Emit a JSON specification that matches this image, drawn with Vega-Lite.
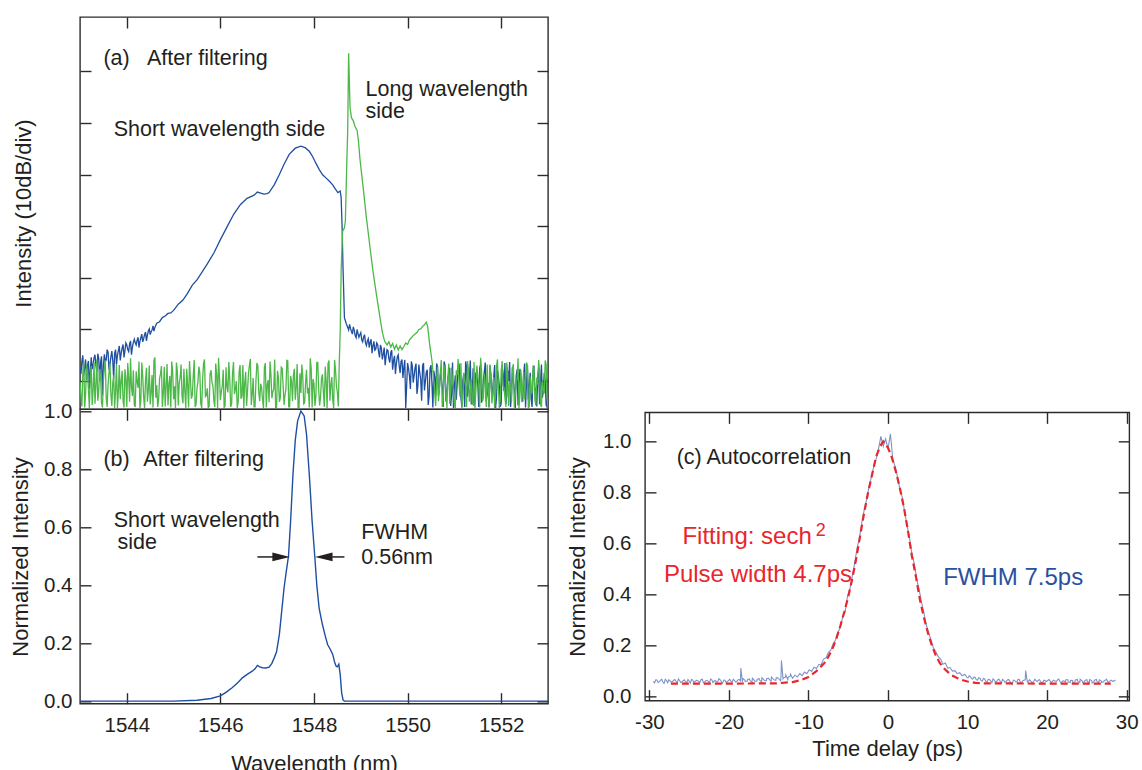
{
"$schema": "https://vega.github.io/schema/vega-lite/v6.json",
"autosize": {"type": "pad"},
"padding": {"left": 8, "top": 15, "right": 0, "bottom": 0},
"background": "white",
"bounds": "flush",
"spacing": 0,
"config": {
  "font": "Liberation Sans",
  "view": {"stroke": "#2b2b2b", "strokeWidth": 1.4},
  "axis": {"grid": false, "domain": false, "ticks": true, "tickSize": -11, "tickColor": "#2b2b2b", "tickWidth": 1.4,
           "labelFont": "Liberation Sans", "labelFontSize": 20.5, "labelColor": "#231f20",
           "titleFont": "Liberation Sans", "titleFontSize": 22, "titleFontWeight": "normal", "titleColor": "#231f20"},
  "text": {"font": "Liberation Sans"}
},
"datasets": {
"blueA": [
{"w":1543.00,"v":-67.5},{"w":1543.04,"v":-66.2},{"w":1543.08,"v":-68.9},{"w":1543.12,"v":-65.8},{"w":1543.16,"v":-67.0},{"w":1543.20,"v":-71.5},{"w":1543.24,"v":-65.4},{"w":1543.28,"v":-66.8},{"w":1543.32,"v":-64.9},{"w":1543.36,"v":-68.2},
{"w":1543.40,"v":-65.6},{"w":1543.44,"v":-66.3},{"w":1543.48,"v":-72.8},{"w":1543.52,"v":-64.8},{"w":1543.56,"v":-65.9},{"w":1543.60,"v":-64.4},{"w":1543.64,"v":-66.7},{"w":1543.68,"v":-64.2},{"w":1543.72,"v":-69.5},{"w":1543.76,"v":-63.9},
{"w":1543.80,"v":-65.0},{"w":1543.84,"v":-63.2},{"w":1543.88,"v":-64.6},{"w":1543.92,"v":-62.9},{"w":1543.96,"v":-64.1},{"w":1544.00,"v":-63.0},{"w":1544.04,"v":-64.3},{"w":1544.08,"v":-62.2},{"w":1544.12,"v":-63.4},{"w":1544.16,"v":-61.9},
{"w":1544.20,"v":-63.0},{"w":1544.24,"v":-61.5},{"w":1544.28,"v":-62.3},{"w":1544.32,"v":-60.9},{"w":1544.36,"v":-61.8},{"w":1544.40,"v":-60.5},{"w":1544.44,"v":-61.1},{"w":1544.48,"v":-59.9},{"w":1544.52,"v":-60.4},{"w":1544.56,"v":-59.3},
{"w":1544.60,"v":-59.6},{"w":1544.64,"v":-58.8},{"w":1544.70,"v":-58.5},{"w":1544.76,"v":-57.7},{"w":1544.82,"v":-57.4},{"w":1544.88,"v":-56.9},{"w":1544.94,"v":-56.8},{"w":1545.00,"v":-56.3},
{"w":1545.10,"v":-55.1},{"w":1545.20,"v":-54.3},{"w":1545.29,"v":-53.1},{"w":1545.40,"v":-51.4},{"w":1545.50,"v":-50.4},{"w":1545.58,"v":-49.3},{"w":1545.72,"v":-47.3},{"w":1545.86,"v":-45.2},{"w":1546.00,"v":-42.6},{"w":1546.15,"v":-40.0},
{"w":1546.29,"v":-37.6},{"w":1546.43,"v":-35.8},{"w":1546.57,"v":-34.6},{"w":1546.72,"v":-34.0},{"w":1546.79,"v":-33.4},{"w":1546.86,"v":-33.6},{"w":1546.93,"v":-33.8},{"w":1547.00,"v":-33.7},{"w":1547.04,"v":-33.5},{"w":1547.15,"v":-32.0},
{"w":1547.26,"v":-30.0},{"w":1547.36,"v":-28.0},{"w":1547.47,"v":-26.1},{"w":1547.60,"v":-24.9},{"w":1547.72,"v":-24.5},{"w":1547.81,"v":-24.8},{"w":1547.90,"v":-25.5},{"w":1547.97,"v":-26.5},{"w":1548.04,"v":-27.8},{"w":1548.11,"v":-29.0},
{"w":1548.18,"v":-30.0},{"w":1548.26,"v":-30.7},{"w":1548.33,"v":-31.3},{"w":1548.40,"v":-32.0},{"w":1548.44,"v":-32.6},{"w":1548.51,"v":-33.5},{"w":1548.56,"v":-33.2},{"w":1548.58,"v":-34.5},{"w":1548.60,"v":-40.0},{"w":1548.62,"v":-48.0},
{"w":1548.65,"v":-57.7},{"w":1548.69,"v":-58.9},
{"w":1548.72,"v":-59.6},{"w":1548.76,"v":-59.0},{"w":1548.80,"v":-60.4},{"w":1548.84,"v":-59.5},{"w":1548.88,"v":-61.2},{"w":1548.92,"v":-60.0},{"w":1548.96,"v":-61.5},{"w":1549.00,"v":-60.6},{"w":1549.04,"v":-62.4},{"w":1549.08,"v":-61.0},
{"w":1549.12,"v":-63.1},{"w":1549.16,"v":-61.8},{"w":1549.20,"v":-62.5},{"w":1549.24,"v":-64.6},{"w":1549.28,"v":-62.3},{"w":1549.32,"v":-63.8},{"w":1549.36,"v":-62.9},{"w":1549.40,"v":-65.4},{"w":1549.44,"v":-63.6},{"w":1549.48,"v":-64.8},
{"w":1549.52,"v":-66.9},{"w":1549.56,"v":-63.9},{"w":1549.60,"v":-65.7},{"w":1549.64,"v":-64.5},{"w":1549.68,"v":-67.8},{"w":1549.72,"v":-65.1},{"w":1549.76,"v":-66.6},{"w":1549.80,"v":-64.9},{"w":1549.84,"v":-68.4},{"w":1549.88,"v":-65.8},
{"w":1549.92,"v":-67.3},{"w":1549.96,"v":-75.2},{"w":1550.00,"v":-66.5},{"w":1550.04,"v":-69.0},{"w":1550.08,"v":-66.2},{"w":1550.12,"v":-70.3},{"w":1550.16,"v":-67.4},{"w":1550.20,"v":-72.5},{"w":1550.24,"v":-66.8},{"w":1550.28,"v":-69.6},
{"w":1550.32,"v":-67.0},{"w":1550.36,"v":-71.8},{"w":1550.40,"v":-68.2},{"w":1550.44,"v":-74.6},{"w":1550.48,"v":-67.5},{"w":1550.52,"v":-70.4},{"w":1550.56,"v":-68.0},{"w":1550.60,"v":-73.0},{"w":1550.64,"v":-67.2},{"w":1550.68,"v":-71.2},
{"w":1550.72,"v":-69.5},{"w":1550.76,"v":-75.0},{"w":1550.80,"v":-67.0},{"w":1550.84,"v":-72.4},{"w":1550.88,"v":-68.3},{"w":1550.92,"v":-74.8},{"w":1550.96,"v":-66.4},{"w":1551.00,"v":-70.9},{"w":1551.04,"v":-73.6},{"w":1551.08,"v":-67.8},
{"w":1551.12,"v":-71.5},{"w":1551.16,"v":-75.1},{"w":1551.20,"v":-68.6},{"w":1551.24,"v":-66.2},{"w":1551.28,"v":-73.0},{"w":1551.32,"v":-69.4},{"w":1551.36,"v":-74.5},{"w":1551.40,"v":-67.5},{"w":1551.44,"v":-71.9},{"w":1551.48,"v":-69.0},
{"w":1551.52,"v":-75.0},{"w":1551.56,"v":-66.8},{"w":1551.60,"v":-72.2},{"w":1551.64,"v":-68.1},{"w":1551.68,"v":-74.0},{"w":1551.72,"v":-70.3},{"w":1551.76,"v":-67.0},{"w":1551.80,"v":-73.4},{"w":1551.84,"v":-69.2},{"w":1551.88,"v":-75.2},
{"w":1551.92,"v":-67.9},{"w":1551.96,"v":-71.0},{"w":1552.00,"v":-74.3},{"w":1552.04,"v":-68.5},{"w":1552.08,"v":-66.5},{"w":1552.12,"v":-72.8},{"w":1552.16,"v":-70.0},{"w":1552.20,"v":-75.0},{"w":1552.24,"v":-67.3},{"w":1552.28,"v":-71.6},
{"w":1552.32,"v":-69.0},{"w":1552.36,"v":-74.7},{"w":1552.40,"v":-67.6},{"w":1552.44,"v":-72.1},{"w":1552.48,"v":-68.8},{"w":1552.52,"v":-75.1},{"w":1552.56,"v":-66.9},{"w":1552.60,"v":-70.7},{"w":1552.64,"v":-73.5},{"w":1552.68,"v":-68.0},
{"w":1552.72,"v":-71.4},{"w":1552.76,"v":-74.9},{"w":1552.80,"v":-67.4},{"w":1552.84,"v":-70.2},{"w":1552.88,"v":-73.2},{"w":1552.92,"v":-68.4},{"w":1552.96,"v":-74.6},{"w":1553.00,"v":-69.5},
{"w":1543.02,"v":-68.6},{"w":1543.06,"v":-65.0},{"w":1543.10,"v":-67.4},{"w":1543.14,"v":-69.8},{"w":1543.18,"v":-66.1},{"w":1543.22,"v":-68.0},{"w":1543.26,"v":-67.7},{"w":1543.30,"v":-65.5},{"w":1543.34,"v":-66.9},{"w":1543.38,"v":-64.7},
{"w":1543.42,"v":-70.0},{"w":1543.46,"v":-65.2},{"w":1543.50,"v":-67.1},{"w":1543.54,"v":-66.2},{"w":1543.58,"v":-63.9},{"w":1543.62,"v":-67.8},{"w":1543.66,"v":-65.3},{"w":1543.70,"v":-66.0},{"w":1543.74,"v":-64.6},{"w":1543.78,"v":-66.8},
{"w":1543.82,"v":-64.1},{"w":1543.86,"v":-66.0},{"w":1543.90,"v":-63.6},{"w":1543.94,"v":-65.4},{"w":1543.98,"v":-62.6},{"w":1544.02,"v":-63.9},{"w":1544.06,"v":-62.8},{"w":1544.10,"v":-64.9},{"w":1544.14,"v":-62.5},{"w":1544.18,"v":-62.6},
{"w":1544.22,"v":-62.1},{"w":1544.26,"v":-63.5},{"w":1544.30,"v":-61.6},{"w":1544.34,"v":-62.4},{"w":1544.38,"v":-61.0},{"w":1544.42,"v":-62.2},{"w":1544.46,"v":-60.3},{"w":1544.50,"v":-61.0},{"w":1544.54,"v":-60.1},{"w":1544.58,"v":-60.3},{"w":1544.62,"v":-59.2},
{"w":1548.74,"v":-60.1},{"w":1548.78,"v":-59.8},{"w":1548.82,"v":-60.9},{"w":1548.86,"v":-60.2},{"w":1548.90,"v":-61.6},{"w":1548.94,"v":-60.8},{"w":1548.98,"v":-61.0},{"w":1549.02,"v":-62.0},{"w":1549.06,"v":-61.5},{"w":1549.10,"v":-62.6},
{"w":1549.14,"v":-62.2},{"w":1549.18,"v":-63.5},{"w":1549.22,"v":-61.9},{"w":1549.26,"v":-63.2},{"w":1549.30,"v":-64.0},{"w":1549.34,"v":-62.6},{"w":1549.38,"v":-64.3},{"w":1549.42,"v":-63.0},{"w":1549.46,"v":-65.8},{"w":1549.50,"v":-63.5},
{"w":1549.54,"v":-65.2},{"w":1549.58,"v":-64.1},{"w":1549.62,"v":-66.4},{"w":1549.66,"v":-64.0},{"w":1549.70,"v":-66.0},{"w":1549.74,"v":-68.6},{"w":1549.78,"v":-65.3},{"w":1549.82,"v":-67.0},{"w":1549.86,"v":-66.2},{"w":1549.90,"v":-69.4},
{"w":1549.94,"v":-65.9},{"w":1549.98,"v":-70.8},{"w":1550.02,"v":-67.6},{"w":1550.06,"v":-71.5},{"w":1550.10,"v":-67.0},{"w":1550.14,"v":-68.9},{"w":1550.18,"v":-66.6},{"w":1550.22,"v":-70.9},{"w":1550.26,"v":-68.4},{"w":1550.30,"v":-73.8},
{"w":1550.34,"v":-66.5},{"w":1550.38,"v":-70.0},{"w":1550.42,"v":-67.8},{"w":1550.46,"v":-72.9},{"w":1550.50,"v":-66.9},{"w":1550.54,"v":-75.1},{"w":1550.58,"v":-69.2},{"w":1550.62,"v":-66.6},{"w":1550.66,"v":-72.8},{"w":1550.70,"v":-68.6},
{"w":1550.74,"v":-71.0},{"w":1550.78,"v":-66.2},{"w":1550.82,"v":-74.0},{"w":1550.86,"v":-69.6},{"w":1550.90,"v":-67.4},{"w":1550.94,"v":-72.6},{"w":1550.98,"v":-75.2},{"w":1551.02,"v":-68.9},{"w":1551.06,"v":-70.4},{"w":1551.10,"v":-66.6},
{"w":1551.14,"v":-73.2},{"w":1551.18,"v":-69.9},{"w":1551.22,"v":-75.0},{"w":1551.26,"v":-67.2},{"w":1551.30,"v":-71.3},{"w":1551.34,"v":-66.0},{"w":1551.38,"v":-72.9},{"w":1551.42,"v":-74.8},{"w":1551.46,"v":-68.3},{"w":1551.50,"v":-70.6},
{"w":1551.54,"v":-67.5},{"w":1551.58,"v":-74.2},{"w":1551.62,"v":-69.7},{"w":1551.66,"v":-66.4},{"w":1551.70,"v":-72.5},{"w":1551.74,"v":-75.1},{"w":1551.78,"v":-68.7},{"w":1551.82,"v":-71.4},{"w":1551.86,"v":-66.9},{"w":1551.90,"v":-73.1},
{"w":1551.94,"v":-69.0},{"w":1551.98,"v":-75.0},{"w":1552.02,"v":-67.1},{"w":1552.06,"v":-71.9},{"w":1552.10,"v":-74.4},{"w":1552.14,"v":-68.0},{"w":1552.18,"v":-66.3},{"w":1552.22,"v":-72.7},{"w":1552.26,"v":-70.1},{"w":1552.30,"v":-75.2},
{"w":1552.34,"v":-67.7},{"w":1552.38,"v":-71.1},{"w":1552.42,"v":-68.9},{"w":1552.46,"v":-74.0},{"w":1552.50,"v":-66.6},{"w":1552.54,"v":-70.3},{"w":1552.58,"v":-73.6},{"w":1552.62,"v":-68.4},{"w":1552.66,"v":-75.0},{"w":1552.70,"v":-67.0},
{"w":1552.74,"v":-71.7},{"w":1552.78,"v":-69.3},{"w":1552.82,"v":-74.5},{"w":1552.86,"v":-66.8},{"w":1552.90,"v":-72.0},{"w":1552.94,"v":-69.9},{"w":1552.98,"v":-75.1}
],
"greenA": [
{"w":1543.00,"v":-70.2},{"w":1543.04,"v":-74.9},{"w":1543.08,"v":-66.0},{"w":1543.12,"v":-72.5},{"w":1543.16,"v":-68.3},{"w":1543.20,"v":-75.2},{"w":1543.24,"v":-67.1},{"w":1543.28,"v":-71.8},{"w":1543.32,"v":-74.4},{"w":1543.36,"v":-65.8},
{"w":1543.40,"v":-72.0},{"w":1543.44,"v":-69.1},{"w":1543.48,"v":-75.1},{"w":1543.52,"v":-67.4},{"w":1543.56,"v":-73.3},{"w":1543.60,"v":-70.6},{"w":1543.64,"v":-66.5},{"w":1543.68,"v":-74.8},{"w":1543.72,"v":-68.9},{"w":1543.76,"v":-71.7},
{"w":1543.80,"v":-75.2},{"w":1543.84,"v":-66.9},{"w":1543.88,"v":-70.0},{"w":1543.92,"v":-73.8},{"w":1543.96,"v":-67.7},{"w":1544.00,"v":-75.0},{"w":1544.04,"v":-69.4},{"w":1544.08,"v":-65.6},{"w":1544.12,"v":-72.9},{"w":1544.16,"v":-74.6},
{"w":1544.20,"v":-68.1},{"w":1544.24,"v":-71.3},{"w":1544.28,"v":-75.2},{"w":1544.32,"v":-66.4},{"w":1544.36,"v":-73.1},{"w":1544.40,"v":-69.8},{"w":1544.44,"v":-74.0},{"w":1544.48,"v":-67.0},{"w":1544.52,"v":-72.4},{"w":1544.56,"v":-75.1},
{"w":1544.60,"v":-65.4},{"w":1544.64,"v":-70.8},{"w":1544.68,"v":-73.6},{"w":1544.72,"v":-68.6},{"w":1544.76,"v":-75.0},{"w":1544.80,"v":-67.2},{"w":1544.84,"v":-71.1},{"w":1544.88,"v":-74.7},{"w":1544.92,"v":-69.0},{"w":1544.96,"v":-66.2},
{"w":1545.00,"v":-73.5},{"w":1545.04,"v":-75.2},{"w":1545.08,"v":-68.0},{"w":1545.12,"v":-70.4},{"w":1545.16,"v":-66.8},{"w":1545.20,"v":-74.3},{"w":1545.24,"v":-71.9},{"w":1545.28,"v":-67.6},{"w":1545.32,"v":-75.1},{"w":1545.36,"v":-69.7},
{"w":1545.40,"v":-72.7},{"w":1545.44,"v":-65.9},{"w":1545.48,"v":-74.5},{"w":1545.52,"v":-70.1},{"w":1545.56,"v":-68.4},{"w":1545.60,"v":-75.2},{"w":1545.64,"v":-66.6},{"w":1545.68,"v":-73.0},{"w":1545.72,"v":-71.4},{"w":1545.76,"v":-74.9},
{"w":1545.80,"v":-67.9},{"w":1545.84,"v":-70.9},{"w":1545.88,"v":-75.0},{"w":1545.92,"v":-68.8},{"w":1545.96,"v":-65.5},{"w":1546.00,"v":-73.7},{"w":1546.04,"v":-71.0},{"w":1546.08,"v":-75.1},{"w":1546.12,"v":-67.3},{"w":1546.16,"v":-72.2},
{"w":1546.20,"v":-69.6},{"w":1546.24,"v":-74.4},{"w":1546.28,"v":-66.3},{"w":1546.32,"v":-71.6},{"w":1546.36,"v":-75.2},{"w":1546.40,"v":-68.2},{"w":1546.44,"v":-73.4},{"w":1546.48,"v":-66.9},{"w":1546.52,"v":-70.3},{"w":1546.56,"v":-74.8},
{"w":1546.60,"v":-68.5},{"w":1546.64,"v":-65.7},{"w":1546.68,"v":-72.6},{"w":1546.72,"v":-75.0},{"w":1546.76,"v":-69.9},{"w":1546.80,"v":-67.0},{"w":1546.84,"v":-73.9},{"w":1546.88,"v":-71.2},{"w":1546.92,"v":-75.2},{"w":1546.96,"v":-66.5},
{"w":1547.00,"v":-70.7},{"w":1547.04,"v":-74.1},{"w":1547.08,"v":-68.7},{"w":1547.12,"v":-72.1},{"w":1547.16,"v":-65.8},{"w":1547.20,"v":-75.1},{"w":1547.24,"v":-69.3},{"w":1547.28,"v":-73.2},{"w":1547.32,"v":-67.5},{"w":1547.36,"v":-74.6},
{"w":1547.40,"v":-71.5},{"w":1547.44,"v":-66.1},{"w":1547.48,"v":-75.0},{"w":1547.52,"v":-70.0},{"w":1547.56,"v":-68.9},{"w":1547.60,"v":-73.6},{"w":1547.64,"v":-66.7},{"w":1547.68,"v":-75.2},{"w":1547.72,"v":-72.3},{"w":1547.76,"v":-69.1},
{"w":1547.80,"v":-74.2},{"w":1547.84,"v":-67.8},{"w":1547.88,"v":-71.3},{"w":1547.92,"v":-65.6},{"w":1547.96,"v":-75.1},{"w":1548.00,"v":-70.5},{"w":1548.04,"v":-73.0},{"w":1548.08,"v":-66.4},{"w":1548.12,"v":-74.7},{"w":1548.16,"v":-69.5},
{"w":1548.20,"v":-72.0},{"w":1548.24,"v":-67.2},{"w":1548.28,"v":-75.2},{"w":1548.32,"v":-66.0},{"w":1548.36,"v":-70.8},{"w":1548.40,"v":-73.5},{"w":1548.44,"v":-65.9},{"w":1548.48,"v":-71.0},{"w":1548.52,"v":-74.9},
{"w":1548.54,"v":-66.5},{"w":1548.56,"v":-60.3},{"w":1548.58,"v":-48.7},{"w":1548.61,"v":-41.0},{"w":1548.65,"v":-40.3},{"w":1548.67,"v":-39.0},{"w":1548.70,"v":-28.0},{"w":1548.72,"v":-21.6},{"w":1548.74,"v":-6.5},{"w":1548.77,"v":-17.0},
{"w":1548.80,"v":-19.0},{"w":1548.84,"v":-19.6},{"w":1548.88,"v":-20.8},{"w":1548.92,"v":-21.4},{"w":1548.95,"v":-23.5},{"w":1548.98,"v":-26.8},{"w":1549.05,"v":-32.5},{"w":1549.12,"v":-38.4},{"w":1549.19,"v":-43.6},{"w":1549.26,"v":-48.7},
{"w":1549.33,"v":-53.0},{"w":1549.41,"v":-57.7},{"w":1549.46,"v":-60.5},{"w":1549.51,"v":-62.3},{"w":1549.56,"v":-63.0},{"w":1549.60,"v":-62.4},{"w":1549.64,"v":-63.4},{"w":1549.68,"v":-62.7},{"w":1549.72,"v":-63.8},{"w":1549.76,"v":-63.0},
{"w":1549.80,"v":-64.0},{"w":1549.84,"v":-63.2},{"w":1549.88,"v":-63.9},{"w":1549.92,"v":-63.3},{"w":1549.96,"v":-62.6},{"w":1550.00,"v":-62.9},{"w":1550.04,"v":-62.0},{"w":1550.08,"v":-61.6},{"w":1550.12,"v":-61.2},{"w":1550.16,"v":-60.9},
{"w":1550.20,"v":-60.6},{"w":1550.24,"v":-60.0},{"w":1550.28,"v":-59.9},{"w":1550.32,"v":-59.4},{"w":1550.36,"v":-59.1},{"w":1550.40,"v":-58.6},{"w":1550.43,"v":-59.5},{"w":1550.47,"v":-62.8},{"w":1550.52,"v":-66.0},{"w":1550.56,"v":-70.0},
{"w":1550.60,"v":-74.8},{"w":1550.64,"v":-67.2},{"w":1550.68,"v":-71.4},{"w":1550.72,"v":-65.9},{"w":1550.76,"v":-73.6},{"w":1550.80,"v":-69.0},{"w":1550.84,"v":-75.2},{"w":1550.88,"v":-66.6},{"w":1550.92,"v":-72.1},{"w":1550.96,"v":-70.3},
{"w":1551.00,"v":-74.5},{"w":1551.04,"v":-67.9},{"w":1551.08,"v":-65.7},{"w":1551.12,"v":-73.0},{"w":1551.16,"v":-75.1},{"w":1551.20,"v":-68.4},{"w":1551.24,"v":-71.0},{"w":1551.28,"v":-66.1},{"w":1551.32,"v":-74.0},{"w":1551.36,"v":-69.6},
{"w":1551.40,"v":-72.8},{"w":1551.44,"v":-75.2},{"w":1551.48,"v":-67.0},{"w":1551.52,"v":-70.7},{"w":1551.56,"v":-65.5},{"w":1551.60,"v":-73.9},{"w":1551.64,"v":-68.7},{"w":1551.68,"v":-75.0},{"w":1551.72,"v":-71.6},{"w":1551.76,"v":-66.8},
{"w":1551.80,"v":-74.3},{"w":1551.84,"v":-69.2},{"w":1551.88,"v":-72.5},{"w":1551.92,"v":-65.8},{"w":1551.96,"v":-75.2},{"w":1552.00,"v":-68.0},{"w":1552.04,"v":-70.9},{"w":1552.08,"v":-73.3},{"w":1552.12,"v":-66.4},{"w":1552.16,"v":-74.8},
{"w":1552.20,"v":-71.2},{"w":1552.24,"v":-67.5},{"w":1552.28,"v":-75.1},{"w":1552.32,"v":-69.8},{"w":1552.36,"v":-65.6},{"w":1552.40,"v":-72.7},{"w":1552.44,"v":-74.1},{"w":1552.48,"v":-68.2},{"w":1552.52,"v":-70.5},{"w":1552.56,"v":-66.9},
{"w":1552.60,"v":-75.0},{"w":1552.64,"v":-71.8},{"w":1552.68,"v":-67.3},{"w":1552.72,"v":-73.7},{"w":1552.76,"v":-69.3},{"w":1552.80,"v":-65.9},{"w":1552.84,"v":-74.6},{"w":1552.88,"v":-70.0},{"w":1552.92,"v":-72.4},{"w":1552.96,"v":-66.7},{"w":1553.00,"v":-75.1},
{"w":1543.02,"v":-73.0},{"w":1543.06,"v":-68.6},{"w":1543.10,"v":-75.1},{"w":1543.14,"v":-66.9},{"w":1543.18,"v":-71.5},{"w":1543.22,"v":-69.2},{"w":1543.26,"v":-74.6},{"w":1543.30,"v":-66.3},{"w":1543.34,"v":-70.9},{"w":1543.38,"v":-73.8},
{"w":1543.42,"v":-67.7},{"w":1543.46,"v":-74.2},{"w":1543.50,"v":-69.9},{"w":1543.54,"v":-65.9},{"w":1543.58,"v":-75.0},{"w":1543.62,"v":-68.3},{"w":1543.66,"v":-72.6},{"w":1543.70,"v":-70.4},{"w":1543.74,"v":-75.2},{"w":1543.78,"v":-66.8},
{"w":1543.82,"v":-71.9},{"w":1543.86,"v":-73.5},{"w":1543.90,"v":-68.0},{"w":1543.94,"v":-75.1},{"w":1543.98,"v":-69.6},{"w":1544.02,"v":-66.5},{"w":1544.06,"v":-74.0},{"w":1544.10,"v":-71.2},{"w":1544.14,"v":-67.9},{"w":1544.18,"v":-75.0},
{"w":1544.22,"v":-70.1},{"w":1544.26,"v":-66.2},{"w":1544.30,"v":-73.9},{"w":1544.34,"v":-69.0},{"w":1544.38,"v":-75.2},{"w":1544.42,"v":-67.4},{"w":1544.46,"v":-71.7},{"w":1544.50,"v":-74.5},{"w":1544.54,"v":-68.8},{"w":1544.58,"v":-66.0},
{"w":1544.62,"v":-73.2},{"w":1544.66,"v":-75.0},{"w":1544.70,"v":-69.5},{"w":1544.74,"v":-67.1},{"w":1544.78,"v":-72.3},{"w":1544.82,"v":-74.9},{"w":1544.86,"v":-66.7},{"w":1544.90,"v":-70.6},{"w":1544.94,"v":-75.1},{"w":1544.98,"v":-68.1},
{"w":1545.02,"v":-71.0},{"w":1545.06,"v":-66.4},{"w":1545.10,"v":-74.7},{"w":1545.14,"v":-69.3},{"w":1545.18,"v":-72.9},{"w":1545.22,"v":-67.6},{"w":1545.26,"v":-75.2},{"w":1545.30,"v":-70.7},{"w":1545.34,"v":-66.1},{"w":1545.38,"v":-73.4},
{"w":1545.42,"v":-68.9},{"w":1545.46,"v":-75.0},{"w":1545.50,"v":-71.4},{"w":1545.54,"v":-67.2},{"w":1545.58,"v":-74.3},{"w":1545.62,"v":-69.7},{"w":1545.66,"v":-65.8},{"w":1545.70,"v":-72.8},{"w":1545.74,"v":-75.1},{"w":1545.78,"v":-68.6},
{"w":1545.82,"v":-70.2},{"w":1545.86,"v":-73.7},{"w":1545.90,"v":-66.6},{"w":1545.94,"v":-75.2},{"w":1545.98,"v":-69.1},{"w":1546.02,"v":-72.0},{"w":1546.06,"v":-67.8},{"w":1546.10,"v":-74.8},{"w":1546.14,"v":-71.1},{"w":1546.18,"v":-66.3},
{"w":1546.22,"v":-75.0},{"w":1546.26,"v":-68.4},{"w":1546.30,"v":-72.5},{"w":1546.34,"v":-70.0},{"w":1546.38,"v":-74.1},{"w":1546.42,"v":-66.9},{"w":1546.46,"v":-73.0},{"w":1546.50,"v":-75.2},{"w":1546.54,"v":-68.2},{"w":1546.58,"v":-71.8},
{"w":1546.62,"v":-67.0},{"w":1546.66,"v":-74.6},{"w":1546.70,"v":-69.4},{"w":1546.74,"v":-75.0},{"w":1546.78,"v":-66.5},{"w":1546.82,"v":-72.2},{"w":1546.86,"v":-70.5},{"w":1546.90,"v":-73.6},{"w":1546.94,"v":-67.4},{"w":1546.98,"v":-75.1},
{"w":1547.02,"v":-69.8},{"w":1547.06,"v":-66.2},{"w":1547.10,"v":-73.3},{"w":1547.14,"v":-71.5},{"w":1547.18,"v":-75.2},{"w":1547.22,"v":-68.0},{"w":1547.26,"v":-74.0},{"w":1547.30,"v":-67.3},{"w":1547.34,"v":-70.8},{"w":1547.38,"v":-72.7},
{"w":1547.42,"v":-66.0},{"w":1547.46,"v":-75.0},{"w":1547.50,"v":-69.0},{"w":1547.54,"v":-73.9},{"w":1547.58,"v":-67.6},{"w":1547.62,"v":-71.2},{"w":1547.66,"v":-75.2},{"w":1547.70,"v":-68.5},{"w":1547.74,"v":-66.8},{"w":1547.78,"v":-74.4},
{"w":1547.82,"v":-70.3},{"w":1547.86,"v":-72.4},{"w":1547.90,"v":-75.1},{"w":1547.94,"v":-67.5},{"w":1547.98,"v":-69.6},{"w":1548.02,"v":-74.8},{"w":1548.06,"v":-66.4},{"w":1548.10,"v":-71.6},{"w":1548.14,"v":-73.1},{"w":1548.18,"v":-68.7},
{"w":1548.22,"v":-75.0},{"w":1548.26,"v":-70.0},{"w":1548.30,"v":-66.6},{"w":1548.34,"v":-73.8},{"w":1548.38,"v":-69.2},{"w":1548.42,"v":-75.2},{"w":1548.46,"v":-67.9},{"w":1548.50,"v":-72.2},
{"w":1550.62,"v":-70.0},{"w":1550.66,"v":-73.9},{"w":1550.70,"v":-68.2},{"w":1550.74,"v":-75.0},{"w":1550.78,"v":-66.9},{"w":1550.82,"v":-72.3},{"w":1550.86,"v":-69.5},{"w":1550.90,"v":-74.4},{"w":1550.94,"v":-67.4},{"w":1550.98,"v":-71.9},
{"w":1551.02,"v":-75.2},{"w":1551.06,"v":-68.8},{"w":1551.10,"v":-70.6},{"w":1551.14,"v":-66.5},{"w":1551.18,"v":-73.4},{"w":1551.22,"v":-69.9},{"w":1551.26,"v":-75.0},{"w":1551.30,"v":-67.7},{"w":1551.34,"v":-72.0},{"w":1551.38,"v":-74.6},
{"w":1551.42,"v":-66.3},{"w":1551.46,"v":-71.5},{"w":1551.50,"v":-69.0},{"w":1551.54,"v":-75.1},{"w":1551.58,"v":-68.0},{"w":1551.62,"v":-73.2},{"w":1551.66,"v":-70.4},{"w":1551.70,"v":-66.8},{"w":1551.74,"v":-74.9},{"w":1551.78,"v":-69.4},
{"w":1551.82,"v":-72.6},{"w":1551.86,"v":-75.2},{"w":1551.90,"v":-67.1},{"w":1551.94,"v":-70.9},{"w":1551.98,"v":-73.7},{"w":1552.02,"v":-66.1},{"w":1552.06,"v":-71.3},{"w":1552.10,"v":-75.0},{"w":1552.14,"v":-68.6},{"w":1552.18,"v":-70.2},
{"w":1552.22,"v":-74.0},{"w":1552.26,"v":-66.7},{"w":1552.30,"v":-72.8},{"w":1552.34,"v":-69.7},{"w":1552.38,"v":-75.2},{"w":1552.42,"v":-67.9},{"w":1552.46,"v":-71.0},{"w":1552.50,"v":-73.5},{"w":1552.54,"v":-66.4},{"w":1552.58,"v":-75.1},
{"w":1552.62,"v":-69.1},{"w":1552.66,"v":-72.4},{"w":1552.70,"v":-67.6},{"w":1552.74,"v":-74.7},{"w":1552.78,"v":-70.7},{"w":1552.82,"v":-68.3},{"w":1552.86,"v":-75.0},{"w":1552.90,"v":-71.7},{"w":1552.94,"v":-66.0},{"w":1552.98,"v":-73.0}
],
"normB": [
{"w":1543.0,"v":0.0},{"w":1545.0,"v":0.0},{"w":1545.5,"v":0.003},{"w":1545.8,"v":0.009},{"w":1546.0,"v":0.018},{"w":1546.12,"v":0.03},{"w":1546.25,"v":0.046},{"w":1546.37,"v":0.063},{"w":1546.47,"v":0.08},{"w":1546.58,"v":0.093},
{"w":1546.68,"v":0.103},{"w":1546.74,"v":0.111},{"w":1546.79,"v":0.123},{"w":1546.84,"v":0.118},{"w":1546.9,"v":0.115},{"w":1546.97,"v":0.114},{"w":1547.04,"v":0.117},{"w":1547.1,"v":0.13},{"w":1547.15,"v":0.149},{"w":1547.2,"v":0.17},
{"w":1547.26,"v":0.23},{"w":1547.31,"v":0.31},{"w":1547.36,"v":0.39},{"w":1547.41,"v":0.45},{"w":1547.455,"v":0.5},{"w":1547.5,"v":0.62},{"w":1547.55,"v":0.78},{"w":1547.6,"v":0.9},{"w":1547.65,"v":0.966},{"w":1547.72,"v":1.0},
{"w":1547.79,"v":0.983},{"w":1547.84,"v":0.92},{"w":1547.9,"v":0.78},{"w":1547.96,"v":0.62},{"w":1548.016,"v":0.5},{"w":1548.06,"v":0.4},{"w":1548.11,"v":0.32},{"w":1548.18,"v":0.264},{"w":1548.24,"v":0.225},{"w":1548.29,"v":0.195},
{"w":1548.35,"v":0.178},{"w":1548.4,"v":0.161},{"w":1548.44,"v":0.135},{"w":1548.47,"v":0.121},{"w":1548.5,"v":0.118},{"w":1548.53,"v":0.127},{"w":1548.56,"v":0.092},{"w":1548.59,"v":0.03},{"w":1548.62,"v":0.004},{"w":1548.65,"v":0.0},{"w":1553.0,"v":0.0}
],
"arrowB": [{"x1":1546.79,"x2":1547.13,"y":0.497},{"x1":1548.39,"x2":1548.65,"y":0.497}],
"headB": [{"x":1547.298,"y":0.497,"dir":"right"},{"x":1548.21,"y":0.497,"dir":"left"}],
"acMeas": [
{"t":-29.5,"v":0.058},{"t":-29.2,"v":0.064},{"t":-28.9,"v":0.053},{"t":-28.6,"v":0.062},{"t":-28.3,"v":0.055},{"t":-28.0,"v":0.066},{"t":-27.7,"v":0.052},{"t":-27.4,"v":0.06},{"t":-27.1,"v":0.057},{"t":-26.8,"v":0.065},
{"t":-26.5,"v":0.051},{"t":-26.2,"v":0.061},{"t":-25.9,"v":0.056},{"t":-25.6,"v":0.064},{"t":-25.3,"v":0.053},{"t":-25.0,"v":0.059},{"t":-24.7,"v":0.066},{"t":-24.4,"v":0.054},{"t":-24.1,"v":0.062},{"t":-23.8,"v":0.057},
{"t":-23.5,"v":0.065},{"t":-23.2,"v":0.052},{"t":-22.9,"v":0.06},{"t":-22.6,"v":0.058},{"t":-22.3,"v":0.067},{"t":-22.0,"v":0.053},{"t":-21.7,"v":0.061},{"t":-21.4,"v":0.056},{"t":-21.1,"v":0.064},{"t":-20.8,"v":0.05},
{"t":-20.5,"v":0.062},{"t":-20.2,"v":0.057},{"t":-19.9,"v":0.066},{"t":-19.6,"v":0.054},{"t":-19.3,"v":0.061},{"t":-19.0,"v":0.058},{"t":-18.7,"v":0.065},{"t":-18.5,"v":0.11},{"t":-18.3,"v":0.055},{"t":-18.0,"v":0.063},
{"t":-17.7,"v":0.059},{"t":-17.4,"v":0.067},{"t":-17.1,"v":0.054},{"t":-16.8,"v":0.062},{"t":-16.5,"v":0.058},{"t":-16.2,"v":0.068},{"t":-15.9,"v":0.056},{"t":-15.6,"v":0.064},{"t":-15.3,"v":0.06},{"t":-15.0,"v":0.07},
{"t":-14.7,"v":0.058},{"t":-14.4,"v":0.066},{"t":-14.1,"v":0.062},{"t":-13.8,"v":0.071},{"t":-13.5,"v":0.06},{"t":-13.4,"v":0.14},{"t":-13.2,"v":0.068},{"t":-12.9,"v":0.074},{"t":-12.6,"v":0.065},{"t":-12.3,"v":0.078},
{"t":-12.0,"v":0.07},{"t":-11.7,"v":0.082},{"t":-11.4,"v":0.075},{"t":-11.1,"v":0.088},{"t":-10.8,"v":0.08},{"t":-10.5,"v":0.094},{"t":-10.2,"v":0.088},{"t":-9.9,"v":0.103},{"t":-9.6,"v":0.097},{"t":-9.3,"v":0.113},
{"t":-9.0,"v":0.108},{"t":-8.7,"v":0.124},{"t":-8.4,"v":0.125},{"t":-8.1,"v":0.145},{"t":-7.8,"v":0.15},{"t":-7.5,"v":0.172},{"t":-7.2,"v":0.18},{"t":-6.9,"v":0.205},{"t":-6.6,"v":0.22},{"t":-6.3,"v":0.25},
{"t":-6.0,"v":0.27},{"t":-5.7,"v":0.31},{"t":-5.4,"v":0.33},{"t":-5.1,"v":0.39},{"t":-4.8,"v":0.42},{"t":-4.5,"v":0.47},{"t":-4.2,"v":0.52},{"t":-3.9,"v":0.58},{"t":-3.6,"v":0.62},{"t":-3.3,"v":0.68},
{"t":-3.0,"v":0.73},{"t":-2.7,"v":0.77},{"t":-2.4,"v":0.82},{"t":-2.1,"v":0.86},{"t":-1.8,"v":0.9},{"t":-1.5,"v":0.93},{"t":-1.2,"v":0.97},{"t":-0.9,"v":1.02},{"t":-0.6,"v":0.98},{"t":-0.3,"v":1.01},
{"t":0.0,"v":0.97},{"t":0.3,"v":1.03},{"t":0.6,"v":0.93},{"t":0.9,"v":0.9},{"t":1.2,"v":0.86},{"t":1.5,"v":0.81},{"t":1.8,"v":0.78},{"t":2.1,"v":0.72},{"t":2.4,"v":0.67},{"t":2.7,"v":0.62},
{"t":3.0,"v":0.56},{"t":3.3,"v":0.52},{"t":3.6,"v":0.46},{"t":3.9,"v":0.42},{"t":4.2,"v":0.37},{"t":4.5,"v":0.33},{"t":4.8,"v":0.28},{"t":5.1,"v":0.25},{"t":5.4,"v":0.22},{"t":5.7,"v":0.19},
{"t":6.0,"v":0.175},{"t":6.3,"v":0.155},{"t":6.6,"v":0.145},{"t":6.9,"v":0.125},{"t":7.2,"v":0.13},{"t":7.5,"v":0.11},{"t":7.8,"v":0.112},{"t":8.1,"v":0.098},{"t":8.4,"v":0.1},{"t":8.7,"v":0.088},
{"t":9.0,"v":0.092},{"t":9.3,"v":0.08},{"t":9.6,"v":0.085},{"t":9.9,"v":0.074},{"t":10.2,"v":0.08},{"t":10.5,"v":0.069},{"t":10.8,"v":0.075},{"t":11.1,"v":0.064},{"t":11.4,"v":0.072},{"t":11.7,"v":0.061},
{"t":12.0,"v":0.069},{"t":12.3,"v":0.057},{"t":12.6,"v":0.066},{"t":12.9,"v":0.06},{"t":13.2,"v":0.068},{"t":13.5,"v":0.055},{"t":13.8,"v":0.064},{"t":14.1,"v":0.058},{"t":14.4,"v":0.066},{"t":14.7,"v":0.054},
{"t":15.0,"v":0.063},{"t":15.3,"v":0.059},{"t":15.6,"v":0.045},{"t":15.9,"v":0.062},{"t":16.2,"v":0.056},{"t":16.5,"v":0.065},{"t":16.8,"v":0.053},{"t":17.1,"v":0.062},{"t":17.3,"v":0.1},{"t":17.5,"v":0.057},
{"t":17.8,"v":0.064},{"t":18.1,"v":0.054},{"t":18.4,"v":0.062},{"t":18.7,"v":0.058},{"t":19.0,"v":0.065},{"t":19.3,"v":0.052},{"t":19.6,"v":0.061},{"t":19.9,"v":0.057},{"t":20.2,"v":0.064},{"t":20.5,"v":0.053},
{"t":20.8,"v":0.062},{"t":21.1,"v":0.058},{"t":21.4,"v":0.066},{"t":21.7,"v":0.052},{"t":22.0,"v":0.06},{"t":22.3,"v":0.056},{"t":22.6,"v":0.064},{"t":22.9,"v":0.053},{"t":23.2,"v":0.061},{"t":23.5,"v":0.057},
{"t":23.8,"v":0.065},{"t":24.1,"v":0.052},{"t":24.4,"v":0.06},{"t":24.7,"v":0.056},{"t":25.0,"v":0.064},{"t":25.3,"v":0.053},{"t":25.6,"v":0.061},{"t":25.9,"v":0.057},{"t":26.2,"v":0.065},{"t":26.5,"v":0.052},
{"t":26.8,"v":0.06},{"t":27.1,"v":0.056},{"t":27.4,"v":0.064},{"t":27.7,"v":0.053},{"t":28.0,"v":0.061},{"t":28.3,"v":0.057},{"t":28.6,"v":0.063},
{"t":-29.35,"v":0.052},{"t":-29.05,"v":0.063},{"t":-28.75,"v":0.057},{"t":-28.45,"v":0.066},{"t":-28.15,"v":0.05},{"t":-27.85,"v":0.061},{"t":-27.55,"v":0.064},{"t":-27.25,"v":0.055},{"t":-26.95,"v":0.062},{"t":-26.65,"v":0.058},
{"t":-26.35,"v":0.067},{"t":-26.05,"v":0.053},{"t":-25.75,"v":0.06},{"t":-25.45,"v":0.055},{"t":-25.15,"v":0.065},{"t":-24.85,"v":0.051},{"t":-24.55,"v":0.063},{"t":-24.25,"v":0.057},{"t":-23.95,"v":0.061},{"t":-23.65,"v":0.054},
{"t":-23.35,"v":0.066},{"t":-23.05,"v":0.056},{"t":-22.75,"v":0.062},{"t":-22.45,"v":0.052},{"t":-22.15,"v":0.064},{"t":-21.85,"v":0.059},{"t":-21.55,"v":0.055},{"t":-21.25,"v":0.068},{"t":-20.95,"v":0.057},{"t":-20.65,"v":0.063},
{"t":-20.35,"v":0.053},{"t":-20.05,"v":0.061},{"t":-19.75,"v":0.058},{"t":-19.45,"v":0.066},{"t":-19.15,"v":0.055},{"t":-18.85,"v":0.064},{"t":-18.55,"v":0.06},{"t":-18.25,"v":0.069},{"t":-17.95,"v":0.057},{"t":-17.65,"v":0.065},
{"t":-17.35,"v":0.061},{"t":-17.05,"v":0.07},{"t":-16.75,"v":0.058},{"t":-16.45,"v":0.066},{"t":-16.15,"v":0.063},{"t":-15.85,"v":0.072},{"t":-15.55,"v":0.061},{"t":-15.25,"v":0.069},{"t":-14.95,"v":0.066},{"t":-14.65,"v":0.075},
{"t":-14.35,"v":0.064},{"t":-14.05,"v":0.072},{"t":-13.75,"v":0.069},{"t":-13.45,"v":0.078},{"t":-13.15,"v":0.071},{"t":-12.85,"v":0.083},{"t":-12.55,"v":0.074},{"t":-12.25,"v":0.086},
{"t":9.75,"v":0.082},{"t":10.05,"v":0.071},{"t":10.35,"v":0.077},{"t":10.65,"v":0.067},{"t":10.95,"v":0.073},{"t":11.25,"v":0.063},{"t":11.55,"v":0.07},{"t":11.85,"v":0.059},{"t":12.15,"v":0.067},{"t":12.45,"v":0.056},
{"t":12.75,"v":0.065},{"t":13.05,"v":0.052},{"t":13.35,"v":0.063},{"t":13.65,"v":0.057},{"t":13.95,"v":0.066},{"t":14.25,"v":0.051},{"t":14.55,"v":0.061},{"t":14.85,"v":0.058},{"t":15.15,"v":0.065},{"t":15.45,"v":0.05},
{"t":15.75,"v":0.062},{"t":16.05,"v":0.056},{"t":16.35,"v":0.066},{"t":16.65,"v":0.053},{"t":16.95,"v":0.06},{"t":17.25,"v":0.064},{"t":17.55,"v":0.055},{"t":17.85,"v":0.061},{"t":18.15,"v":0.052},{"t":18.45,"v":0.066},
{"t":18.75,"v":0.057},{"t":19.05,"v":0.063},{"t":19.35,"v":0.05},{"t":19.65,"v":0.062},{"t":19.95,"v":0.058},{"t":20.25,"v":0.065},{"t":20.55,"v":0.054},{"t":20.85,"v":0.061},{"t":21.15,"v":0.057},{"t":21.45,"v":0.067},
{"t":21.75,"v":0.052},{"t":22.05,"v":0.06},{"t":22.35,"v":0.064},{"t":22.65,"v":0.055},{"t":22.95,"v":0.062},{"t":23.25,"v":0.05},{"t":23.55,"v":0.063},{"t":23.85,"v":0.058},{"t":24.15,"v":0.066},{"t":24.45,"v":0.054},
{"t":24.75,"v":0.061},{"t":25.05,"v":0.057},{"t":25.35,"v":0.065},{"t":25.65,"v":0.051},{"t":25.95,"v":0.062},{"t":26.25,"v":0.058},{"t":26.55,"v":0.064},{"t":26.85,"v":0.053},{"t":27.15,"v":0.06},{"t":27.45,"v":0.066},
{"t":27.75,"v":0.055},{"t":28.05,"v":0.062},{"t":28.35,"v":0.058}
],
"acFit": [
{"t":-27.3,"v":0.049},{"t":-20,"v":0.049},{"t":-14,"v":0.05},{"t":-12,"v":0.055},{"t":-11,"v":0.062},{"t":-10,"v":0.075},{"t":-9,"v":0.098},{"t":-8,"v":0.13},{"t":-7.5,"v":0.155},{"t":-7,"v":0.185},
{"t":-6.5,"v":0.225},{"t":-6,"v":0.275},{"t":-5.5,"v":0.33},{"t":-5,"v":0.39},{"t":-4.5,"v":0.46},{"t":-4,"v":0.54},{"t":-3.5,"v":0.63},{"t":-3,"v":0.72},{"t":-2.5,"v":0.8},{"t":-2,"v":0.87},
{"t":-1.5,"v":0.94},{"t":-1,"v":0.98},{"t":-0.6,"v":1.0},{"t":0,"v":0.975},{"t":0.5,"v":0.935},{"t":1,"v":0.88},{"t":1.5,"v":0.815},{"t":2,"v":0.74},{"t":2.5,"v":0.65},{"t":3,"v":0.55},
{"t":3.5,"v":0.47},{"t":4,"v":0.38},{"t":4.5,"v":0.31},{"t":5,"v":0.25},{"t":5.5,"v":0.2},{"t":6,"v":0.16},{"t":6.5,"v":0.13},{"t":7,"v":0.11},{"t":7.5,"v":0.095},{"t":8,"v":0.082},
{"t":9,"v":0.066},{"t":10,"v":0.057},{"t":11,"v":0.052},{"t":12,"v":0.05},{"t":20,"v":0.049},{"t":28,"v":0.049}
]
},
"vconcat": [
{
  "width": 468, "height": 392,
  "resolve": {"axis": {"x": "independent", "y": "independent"}},
  "layer": [
    {"data": {"name": "blueA"}, "mark": {"type": "line", "color": "#1f4fa0", "strokeWidth": 1.3, "clip": true},
     "encoding": {
       "x": {"field": "w", "type": "quantitative", "scale": {"domain": [1543, 1553], "nice": false, "zero": false},
             "axis": {"orient": "top", "labels": false, "title": null, "values": [1544, 1546, 1548, 1550, 1552]}},
       "y": {"field": "v", "type": "quantitative", "scale": {"domain": [-75.4, 0.5], "nice": false, "zero": false},
             "axis": {"orient": "left", "labels": false, "title": "Intensity (10dB/div)", "titlePadding": 44, "values": [-70, -60, -50, -40, -30, -20, -10]}}}},
    {"data": {"name": "greenA"}, "mark": {"type": "line", "color": "#4cb848", "strokeWidth": 1.3, "clip": true},
     "encoding": {
       "x": {"field": "w", "type": "quantitative", "scale": {"domain": [1543, 1553], "nice": false, "zero": false}, "axis": null},
       "y": {"field": "v", "type": "quantitative", "scale": {"domain": [-75.4, 0.5], "nice": false, "zero": false},
             "axis": {"orient": "right", "labels": false, "title": null, "values": [-70, -60, -50, -40, -30, -20, -10]}}}},
    {"data": {"values": [
        {"x": 1543.5, "y": -8.7, "label": "(a)"},
        {"x": 1544.43, "y": -8.7, "label": "After filtering"},
        {"x": 1543.72, "y": -22.6, "label": "Short wavelength side"},
        {"x": 1549.1, "y": -14.85, "label": "Long wavelength"},
        {"x": 1549.1, "y": -19.15, "label": "side"}]},
     "mark": {"type": "text", "align": "left", "baseline": "alphabetic", "fontSize": 21.5, "color": "#231f20"},
     "encoding": {
       "x": {"field": "x", "type": "quantitative", "scale": {"domain": [1543, 1553], "nice": false, "zero": false}, "axis": null},
       "y": {"field": "y", "type": "quantitative", "scale": {"domain": [-75.4, 0.5], "nice": false, "zero": false}, "axis": null},
       "text": {"field": "label"}}}
  ]
},
{
  "hconcat": [
    {
      "width": 468, "height": 294.4,
      "resolve": {"axis": {"x": "independent", "y": "independent"}},
      "layer": [
        {"data": {"name": "normB"}, "mark": {"type": "line", "color": "#1f4fa0", "strokeWidth": 1.4, "clip": true},
         "encoding": {
           "x": {"field": "w", "type": "quantitative", "scale": {"domain": [1543, 1553], "nice": false, "zero": false},
                 "axis": {"orient": "bottom", "title": "Wavelength (nm)", "values": [1544, 1546, 1548, 1550, 1552], "format": "d", "labelPadding": 23, "titlePadding": 17}},
           "y": {"field": "v", "type": "quantitative", "scale": {"domain": [-0.009, 1.006], "nice": false, "zero": false},
                 "axis": {"orient": "left", "title": "Normalized Intensity", "values": [0, 0.2, 0.4, 0.6, 0.8, 1.0], "format": ".1f", "labelPadding": 19, "titlePadding": 11}}}},
        {"data": {"name": "arrowB"}, "mark": {"type": "rule", "color": "#231f20", "strokeWidth": 1.5},
         "encoding": {
           "x": {"field": "x1", "type": "quantitative", "scale": {"domain": [1543, 1553], "nice": false, "zero": false},
                 "axis": {"orient": "top", "labels": false, "title": null, "values": [1544, 1546, 1548, 1550, 1552]}},
           "x2": {"field": "x2"},
           "y": {"field": "y", "type": "quantitative", "scale": {"domain": [-0.009, 1.006], "nice": false, "zero": false},
                 "axis": {"orient": "right", "labels": false, "title": null, "values": [0, 0.2, 0.4, 0.6, 0.8, 1.0]}}}},
        {"data": {"name": "headB"}, "mark": {"type": "point", "filled": true, "color": "#231f20", "opacity": 1, "size": 306},
         "encoding": {
           "x": {"field": "x", "type": "quantitative", "scale": {"domain": [1543, 1553], "nice": false, "zero": false}, "axis": null},
           "y": {"field": "y", "type": "quantitative", "scale": {"domain": [-0.009, 1.006], "nice": false, "zero": false}, "axis": null},
           "shape": {"field": "dir", "type": "nominal", "scale": {"domain": ["right", "left"], "range": ["M-1,-0.5L1,0L-1,0.5Z", "M1,-0.5L-1,0L1,0.5Z"]}, "legend": null}}},
        {"data": {"values": [
            {"x": 1543.5, "y": 0.81, "label": "(b)"},
            {"x": 1544.35, "y": 0.81, "label": "After filtering"},
            {"x": 1543.72, "y": 0.6, "label": "Short wavelength"},
            {"x": 1543.8, "y": 0.525, "label": "side"},
            {"x": 1549.01, "y": 0.559, "label": "FWHM"},
            {"x": 1549.01, "y": 0.472, "label": "0.56nm"}]},
         "mark": {"type": "text", "align": "left", "baseline": "alphabetic", "fontSize": 21.5, "color": "#231f20"},
         "encoding": {
           "x": {"field": "x", "type": "quantitative", "scale": {"domain": [1543, 1553], "nice": false, "zero": false}, "axis": null},
           "y": {"field": "y", "type": "quantitative", "scale": {"domain": [-0.009, 1.006], "nice": false, "zero": false}, "axis": null},
           "text": {"field": "label"}}}
      ]
    },
    {
      "width": 484.3, "height": 288.3,
      "resolve": {"axis": {"x": "independent", "y": "independent"}},
      "layer": [
        {"data": {"name": "acMeas"}, "mark": {"type": "line", "color": "#7d94c9", "strokeWidth": 1.1, "clip": true},
         "encoding": {
           "x": {"field": "t", "type": "quantitative", "scale": {"domain": [-30.55, 30.33], "nice": false, "zero": false},
                 "axis": {"orient": "bottom", "title": "Time delay (ps)", "values": [-30, -20, -10, 0, 10, 20, 30], "labelExpr": "datum.value < 0 ? '-' + (-datum.value) : '' + datum.value", "labelPadding": 23, "titlePadding": 5}},
           "y": {"field": "v", "type": "quantitative", "scale": {"domain": [-0.018, 1.114], "nice": false, "zero": false},
                 "axis": {"orient": "left", "title": "Normalized Intensity", "values": [0, 0.2, 0.4, 0.6, 0.8, 1.0], "format": ".1f", "labelPadding": 25, "titlePadding": 13}}}},
        {"data": {"name": "acFit"}, "mark": {"type": "line", "color": "#e8262b", "strokeWidth": 2.2, "strokeDash": [7, 4], "clip": true},
         "encoding": {
           "x": {"field": "t", "type": "quantitative", "scale": {"domain": [-30.55, 30.33], "nice": false, "zero": false},
                 "axis": {"orient": "top", "labels": false, "title": null, "values": [-30, -20, -10, 0, 10, 20, 30]}},
           "y": {"field": "v", "type": "quantitative", "scale": {"domain": [-0.018, 1.114], "nice": false, "zero": false},
                 "axis": {"orient": "right", "labels": false, "title": null, "values": [0, 0.2, 0.4, 0.6, 0.8, 1.0]}}}},
        {"data": {"values": [{"x": -26.57, "y": 0.91, "label": "(c) Autocorrelation"}]},
         "mark": {"type": "text", "align": "left", "baseline": "alphabetic", "fontSize": 21.5, "color": "#231f20"},
         "encoding": {
           "x": {"field": "x", "type": "quantitative", "scale": {"domain": [-30.55, 30.33], "nice": false, "zero": false}, "axis": null},
           "y": {"field": "y", "type": "quantitative", "scale": {"domain": [-0.018, 1.114], "nice": false, "zero": false}, "axis": null},
           "text": {"field": "label"}}},
        {"data": {"values": [{"x": -25.85, "y": 0.596, "label": "Fitting: sech"}, {"x": -28.17, "y": 0.446, "label": "Pulse width 4.7ps"}]},
         "mark": {"type": "text", "align": "left", "baseline": "alphabetic", "fontSize": 24, "color": "#e8262b"},
         "encoding": {
           "x": {"field": "x", "type": "quantitative", "scale": {"domain": [-30.55, 30.33], "nice": false, "zero": false}, "axis": null},
           "y": {"field": "y", "type": "quantitative", "scale": {"domain": [-0.018, 1.114], "nice": false, "zero": false}, "axis": null},
           "text": {"field": "label"}}},
        {"data": {"values": [{"x": -9.1, "y": 0.63, "label": "2"}]},
         "mark": {"type": "text", "align": "left", "baseline": "alphabetic", "fontSize": 18, "color": "#e8262b"},
         "encoding": {
           "x": {"field": "x", "type": "quantitative", "scale": {"domain": [-30.55, 30.33], "nice": false, "zero": false}, "axis": null},
           "y": {"field": "y", "type": "quantitative", "scale": {"domain": [-0.018, 1.114], "nice": false, "zero": false}, "axis": null},
           "text": {"field": "label"}}},
        {"data": {"values": [{"x": 6.93, "y": 0.435, "label": "FWHM 7.5ps"}]},
         "mark": {"type": "text", "align": "left", "baseline": "alphabetic", "fontSize": 24, "color": "#2a50a0"},
         "encoding": {
           "x": {"field": "x", "type": "quantitative", "scale": {"domain": [-30.55, 30.33], "nice": false, "zero": false}, "axis": null},
           "y": {"field": "y", "type": "quantitative", "scale": {"domain": [-0.018, 1.114], "nice": false, "zero": false}, "axis": null},
           "text": {"field": "label"}}}
      ]
    }
  ],
  "spacing": 97,
  "bounds": "flush",
  "center": true
}
]
}
